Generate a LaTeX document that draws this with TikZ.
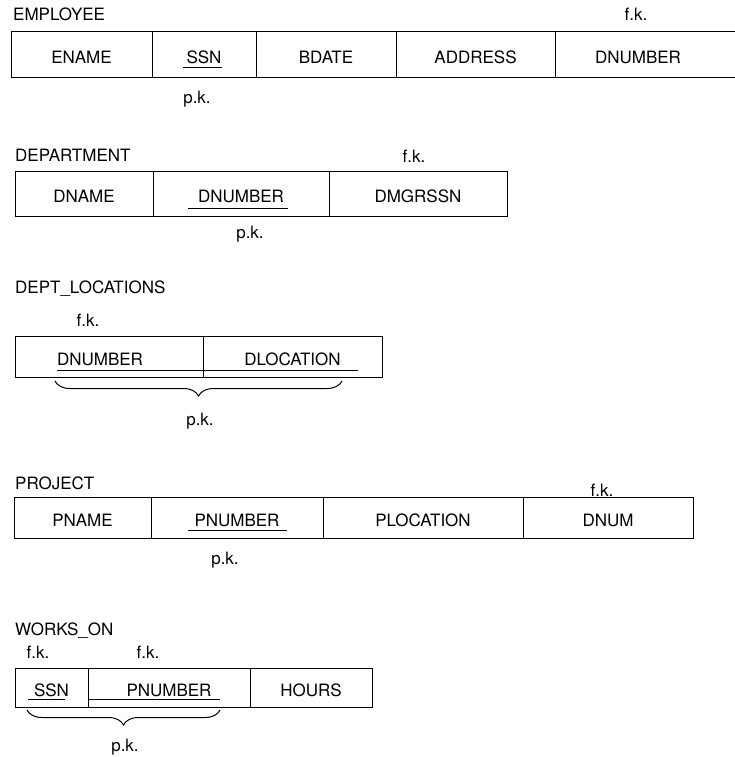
\documentclass[tikz,border=0pt]{standalone}
\usepackage{fontspec}
\setmainfont{TeX Gyre Heros}
\usetikzlibrary{positioning,decorations.pathreplacing}
\tikzset{
  attr/.style={rectangle,draw,line width=1pt,inner sep=0pt,outer sep=0pt,
               minimum height=41pt,text height=17pt,text depth=0pt,
               font=\fontsize{17}{20}\selectfont},
  rel/.style={anchor=west,inner sep=0pt,text height=12pt,text depth=0pt,
              font=\fontsize{17}{20}\selectfont},
  keynote/.style={inner sep=0pt,text height=12pt,text depth=0pt,
                  font=\fontsize{17}{20}\selectfont},
  keyline/.style={line width=1pt},
  keybrace/.style={line width=1pt,decorate,
                   decoration={brace,mirror,amplitude=15pt}},
}
\begin{document}
\begin{tikzpicture}[x=1pt,y=-1pt]
  \useasboundingbox (0,0) rectangle (734,757);

  % EMPLOYEE
  \node[rel] (emp) at (13,15) {EMPLOYEE};
  \node[attr,anchor=west,minimum width=141pt,minimum height=46pt] (e1) at (11,55) {ENAME};
  \node[attr,right=0pt of e1,minimum width=104pt,minimum height=46pt] (e2) {SSN};
  \node[attr,right=0pt of e2,minimum width=140pt,minimum height=46pt] (e3) {BDATE};
  \node[attr,right=0pt of e3,minimum width=159pt,minimum height=46pt] (e4) {ADDRESS};
  \node[attr,right=0pt of e4,minimum width=190pt,minimum height=46pt] (e5) {DNUMBER\hspace*{24pt}};
  \node[keynote] (efk) at (636,15) {f.k.};
  \node[keynote] (epk) at (197,97) {p.k.};
  \draw[keyline] (183,68) -- (222,68);

  % DEPARTMENT
  \node[rel] (dept) at (15,155) {DEPARTMENT};
  \node[attr,anchor=west,minimum width=138pt,minimum height=45pt] (d1) at (15,193.5) {DNAME};
  \node[attr,right=0pt of d1,minimum width=176pt,minimum height=45pt] (d2) {DNUMBER};
  \node[attr,right=0pt of d2,minimum width=178pt,minimum height=45pt] (d3) {DMGRSSN};
  \node[keynote] (dfk) at (414,156) {f.k.};
  \node[keynote] (dpk) at (250,232) {p.k.};
  \draw[keyline] (188,208) -- (288,208);

  % DEPT_LOCATIONS
  \node[rel] (dloc) at (15,287) {DEPT\_LOCATIONS};
  \node[attr,anchor=west,minimum width=188pt] (l1) at (15,356.5) {DNUMBER\hspace*{18pt}};
  \node[attr,right=0pt of l1,minimum width=179pt] (l2) {DLOCATION};
  \node[keynote] (lfk) at (88,320) {f.k.};
  \node[keynote] (lpk) at (200,419) {p.k.};
  \draw[keyline] (57,370) -- (358,370);
  \draw[keybrace] (55,381) -- (342,381);

  % PROJECT
  \node[rel] (proj) at (15,483) {PROJECT};
  \node[attr,anchor=west,minimum width=137pt] (p1) at (14,517.5) {PNAME};
  \node[attr,right=0pt of p1,minimum width=172pt] (p2) {PNUMBER};
  \node[attr,right=0pt of p2,minimum width=200pt] (p3) {PLOCATION};
  \node[attr,right=0pt of p3,minimum width=170pt] (p4) {DNUM};
  \node[keynote] (pfk) at (602,490) {f.k.};
  \node[keynote] (ppk) at (225,558) {p.k.};
  \draw[keyline] (188,530) -- (287,530);

  % WORKS_ON
  \node[rel] (works) at (15,629) {WORKS\_ON};
  \node[attr,anchor=west,minimum width=73pt,minimum height=39pt] (w1) at (15,687.5) {SSN};
  \node[attr,right=0pt of w1,minimum width=162pt,minimum height=39pt] (w2) {PNUMBER};
  \node[attr,right=0pt of w2,minimum width=122pt,minimum height=39pt] (w3) {HOURS};
  \node[keynote] (wfk1) at (38,652) {f.k.};
  \node[keynote] (wfk2) at (148,652) {f.k.};
  \node[keynote] (wpk) at (125,745) {p.k.};
  \draw[keyline] (28,699) -- (65,699);
  \draw[keyline] (88,699) -- (220,699);
  \draw[keybrace] (27,710) -- (220,710);
\end{tikzpicture}
\end{document}
